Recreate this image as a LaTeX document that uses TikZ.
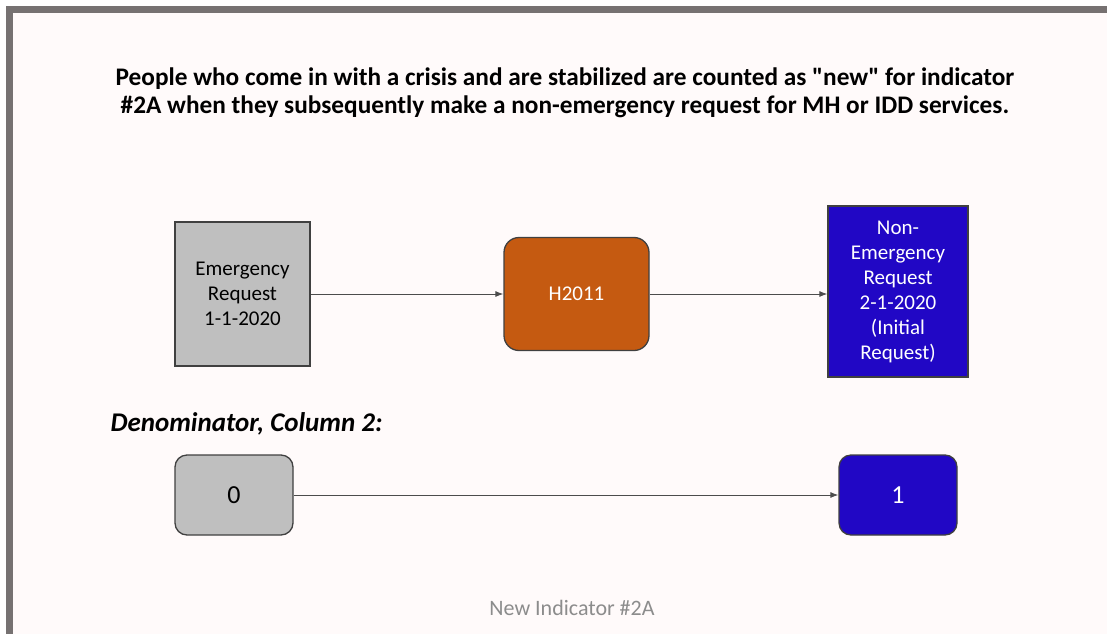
\documentclass[tikz,border=0pt]{standalone}
\usepackage{fontspec}
\setmainfont{Carlito}
\usepackage{tikz}
\usetikzlibrary{arrows.meta}
\definecolor{framegray}{HTML}{767171}
\definecolor{slidebg}{HTML}{FFFAFA}
\definecolor{boxgray}{HTML}{BFBFBF}
\definecolor{rustorange}{HTML}{C55A11}
\definecolor{deepblue}{HTML}{2107C5}

\begin{document}
\begin{tikzpicture}[x=1pt,y=-1pt,
    box/.style={draw=black!75,line width=1.3pt,align=center,inner sep=0pt,font=\fontsize{21}{25}\selectfont},
    flow/.style={-{Latex[length=8pt,width=6pt]},line width=0.9pt,black!70}]
            % slide and frame
            \fill[white] (0,0) rectangle (1107,634);
            \fill[slidebg] (13,13) rectangle (1107,634);
            \fill[framegray] (6,6) rectangle (1107,13);
            \fill[framegray] (6,6) rectangle (13,634);
            \useasboundingbox (0,0) rectangle (1107,634);
            \node[align=center,font=\bfseries\fontsize{25.3}{28}\selectfont] (title) at (565,93) {People who come in with a crisis and are stabilized are counted as \textquotedbl new\textquotedbl{} for indicator\\\#2A when they subsequently make a non-emergency request for MH or IDD services.};
            % first row
            \node[box,fill=boxgray,minimum width=135pt,minimum height=144pt] (emerg) at (242.5,294) {Emergency\\Request\\1-1-2020};
            \node[box,fill=rustorange,text=white,rounded corners=15pt,minimum width=145pt,minimum height=113pt] (h2011) at (576.5,294) {H2011};
            \node[box,fill=deepblue,text=white,minimum width=140pt,minimum height=171pt] (nonemerg) at (898,291.5) {Non-\\Emergency\\Request\\2-1-2020\\(Initial\\Request)};
            \draw[flow] (emerg.east) -- (h2011.west);
            \draw[flow] (h2011.east) -- (h2011.east -| nonemerg.west);
            % second row
            \node[anchor=west,font=\bfseries\itshape\fontsize{27}{30}\selectfont] (denom) at (107,424) {Denominator, Column 2:};
            \node[box,fill=boxgray,rounded corners=12pt,minimum width=118pt,minimum height=80pt,font=\fontsize{26}{30}\selectfont] (zero) at (234,495) {0};
            \node[box,fill=deepblue,text=white,rounded corners=12pt,minimum width=118pt,minimum height=80pt,font=\fontsize{26}{30}\selectfont] (one) at (898,495) {1};
            \draw[flow] (zero.east) -- (one.west);
            \node[text=black!45,font=\fontsize{22}{24}\selectfont] (footer) at (572,608) {New Indicator \#2A};
          \end{tikzpicture}
\end{document}
